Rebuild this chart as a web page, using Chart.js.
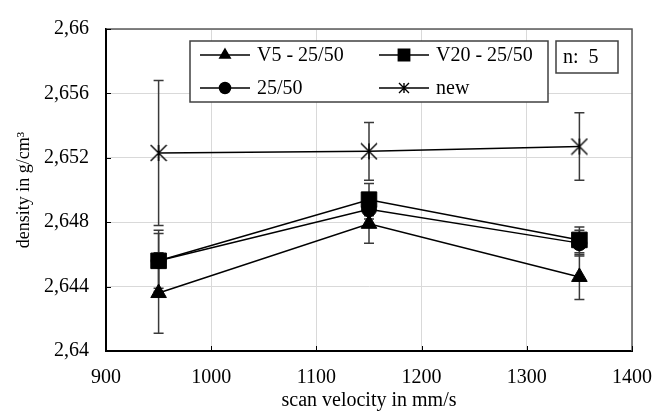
<!DOCTYPE html>
<html>
<head>
<meta charset="utf-8">
<script src="https://cdn.jsdelivr.net/npm/chart.js@4.4.0/dist/chart.umd.min.js"></script>
<style>
    html, body { margin: 0; padding: 0; background: #fff; }
    #densityChart { display: block; }
</style>
</head>
<body>
<canvas id="densityChart" width="654" height="412"></canvas>
<script>
// values
var velocity = [950, 1150, 1350];
var v5 = [2.6436, 2.6479, 2.6446];
var v5Err = [0.0025, 0.0012, 0.0014];
var v20 = [2.6456, 2.6494, 2.6469];
var v20Err = [0.0019, 0.0010, 0.0008];
var base = [2.6456, 2.6488, 2.6467];
var baseErr = [0.0017, 0.0006, 0.0008];
var newer = [2.6523, 2.6524, 2.6527];
var newerErr = [0.0045, 0.0018, 0.0021];
var seriesNames = ['V5 - 25/50', 'V20 - 25/50', '25/50', 'new'];
var xTicks = [900, 1000, 1100, 1200, 1300, 1400];
var yTicks = [2.64, 2.644, 2.648, 2.652, 2.656, 2.66];
var sampleNote = 'n:  5';

var serif = '"Liberation Serif", "Times New Roman", serif';

// excel style star: x plus a vertical stroke
function makeStar(size) {
    var c = document.createElement('canvas');
    c.width = size;
    c.height = size;
    var g = c.getContext('2d');
    var m = size / 2, r = size / 2 - 1;
    g.strokeStyle = '#000';
    g.lineWidth = 1.4;
    g.beginPath();
    g.moveTo(m, m - r); g.lineTo(m, m + r);
    g.moveTo(m - r, m - r); g.lineTo(m + r, m + r);
    g.moveTo(m + r, m - r); g.lineTo(m - r, m + r);
    g.stroke();
    return c;
}
var starBig = makeStar(18);
var starSmall = makeStar(12);

function pts(ys) {
    return velocity.map(function (v, i) { return { x: v, y: ys[i] }; });
}

var errs = [v5Err, v20Err, baseErr, newerErr];
var styles = ['triangle', 'rect', 'circle', starBig];
var radii = [9, 11, 7.5, 9];
var legendStyles = ['triangle', 'rect', 'circle', starSmall];
var legendRadii = [6, 8, 5.5, 6];

var errorBars = {
    id: 'errorBars',
    beforeDatasetsDraw: function (chart) {
        var ctx = chart.ctx, xs = chart.scales.x, ys = chart.scales.y;
        ctx.save();
        ctx.strokeStyle = '#3a3a3a';
        ctx.lineWidth = 1.5;
        chart.data.datasets.forEach(function (ds, d) {
            errs[d].forEach(function (e, i) {
                var px = xs.getPixelForValue(velocity[i]);
                var top = ys.getPixelForValue(ds.data[i].y + e);
                var bot = ys.getPixelForValue(ds.data[i].y - e);
                ctx.beginPath();
                ctx.moveTo(px, top); ctx.lineTo(px, bot);
                ctx.moveTo(px - 5, top); ctx.lineTo(px + 5, top);
                ctx.moveTo(px - 5, bot); ctx.lineTo(px + 5, bot);
                ctx.stroke();
            });
        });
        ctx.restore();
    }
};

var frame = {
    id: 'frame',
    beforeDatasetsDraw: function (chart) {
        var ctx = chart.ctx, a = chart.chartArea;
        var xs = chart.scales.x, ys = chart.scales.y;
        ctx.save();
        ctx.strokeStyle = '#595959';
        ctx.lineWidth = 1.5;
        ctx.beginPath();
        ctx.moveTo(a.left, a.top); ctx.lineTo(a.right, a.top); ctx.lineTo(a.right, a.bottom);
        ctx.stroke();
        // inward tick marks
        ctx.strokeStyle = '#000';
        ctx.lineWidth = 1;
        ctx.beginPath();
        xTicks.forEach(function (t) {
            var px = Math.round(xs.getPixelForValue(t)) + 0.5;
            ctx.moveTo(px, a.bottom); ctx.lineTo(px, a.bottom - 5);
        });
        yTicks.forEach(function (t) {
            var py = Math.round(ys.getPixelForValue(t)) + 0.5;
            ctx.moveTo(a.left, py); ctx.lineTo(a.left + 5, py);
        });
        ctx.stroke();
        ctx.restore();
    }
};

var boxLegend = {
    id: 'boxLegend',
    afterDraw: function (chart) {
        var ctx = chart.ctx;
        ctx.save();
        ctx.fillStyle = '#fff';
        ctx.strokeStyle = '#404040';
        ctx.lineWidth = 1.5;
        ctx.fillRect(190, 41, 358, 61);
        ctx.strokeRect(190, 41, 358, 61);
        ctx.fillRect(556, 41, 62, 32);
        ctx.strokeRect(556, 41, 62, 32);

        var cols = [200, 379], rows = [55, 88];
        ctx.font = '20px ' + serif;
        ctx.textBaseline = 'middle';
        seriesNames.forEach(function (name, i) {
            var x0 = cols[i % 2], y0 = rows[Math.floor(i / 2)];
            ctx.strokeStyle = '#000';
            ctx.fillStyle = '#000';
            ctx.lineWidth = 1.5;
            ctx.beginPath();
            ctx.moveTo(x0, y0); ctx.lineTo(x0 + 50, y0);
            ctx.stroke();
            Chart.helpers.drawPoint(ctx, {
                pointStyle: legendStyles[i], radius: legendRadii[i], rotation: 0, borderWidth: 1
            }, x0 + 25, y0);
            ctx.fillStyle = '#000';
            ctx.fillText(name, x0 + 57, y0 + 1);
        });
        ctx.fillText(sampleNote, 563, 58);
        ctx.restore();
    }
};

var datasets = [v5, v20, base, newer].map(function (ys, i) {
    return {
        label: seriesNames[i],
        data: pts(ys),
        borderColor: '#000',
        backgroundColor: '#000',
        borderWidth: 1.5,
        pointStyle: styles[i],
        pointRadius: radii[i],
        pointBorderWidth: 1,
        pointBackgroundColor: '#000',
        pointBorderColor: '#000',
        tension: 0,
        fill: false
    };
});

new Chart('densityChart', {
    type: 'line',
    data: { datasets: datasets },
    plugins: [errorBars, frame, boxLegend],
    options: {
        responsive: false,
        devicePixelRatio: 1,
        animation: false,
        layout: { padding: { top: 21, right: 22, left: 0, bottom: 0 } },
        plugins: {
            legend: { display: false },
            tooltip: { enabled: false }
        },
        scales: {
            x: {
                type: 'linear',
                min: 900,
                max: 1400,
                afterBuildTicks: function (s) { s.ticks = xTicks.map(function (v) { return { value: v }; }); },
                afterFit: function (s) {
                    s.height = 61;
                    s.paddingLeft = 0;
                    s.paddingRight = 0;
                },
                grid: { color: '#d9d9d9', lineWidth: 1, drawTicks: false },
                border: { color: '#000', width: 2 },
                ticks: {
                    color: '#000',
                    padding: 15,
                    font: { family: serif, size: 20 },
                    callback: function (v) { return String(v); }
                },
                title: {
                    display: true,
                    text: 'scan velocity in mm/s',
                    color: '#000',
                    font: { family: serif, size: 20, lineHeight: 1 },
                    padding: { top: 0, bottom: 1 }
                }
            },
            y: {
                min: 2.64,
                max: 2.66,
                afterBuildTicks: function (s) { s.ticks = yTicks.map(function (v) { return { value: v }; }); },
                afterFit: function (s) { s.width = 106; },
                grid: { color: '#d9d9d9', lineWidth: 1, drawTicks: false },
                border: { color: '#000', width: 2 },
                ticks: {
                    color: '#000',
                    padding: 17,
                    font: { family: serif, size: 20 },
                    callback: function (v) { return String(+v.toFixed(3)).replace('.', ','); }
                },
                title: {
                    display: true,
                    text: 'density in g/cm³',
                    color: '#000',
                    font: { family: serif, size: 18, lineHeight: 1 },
                    padding: { top: 15, bottom: 0 }
                }
            }
        }
    }
});
</script>
</body>
</html>
